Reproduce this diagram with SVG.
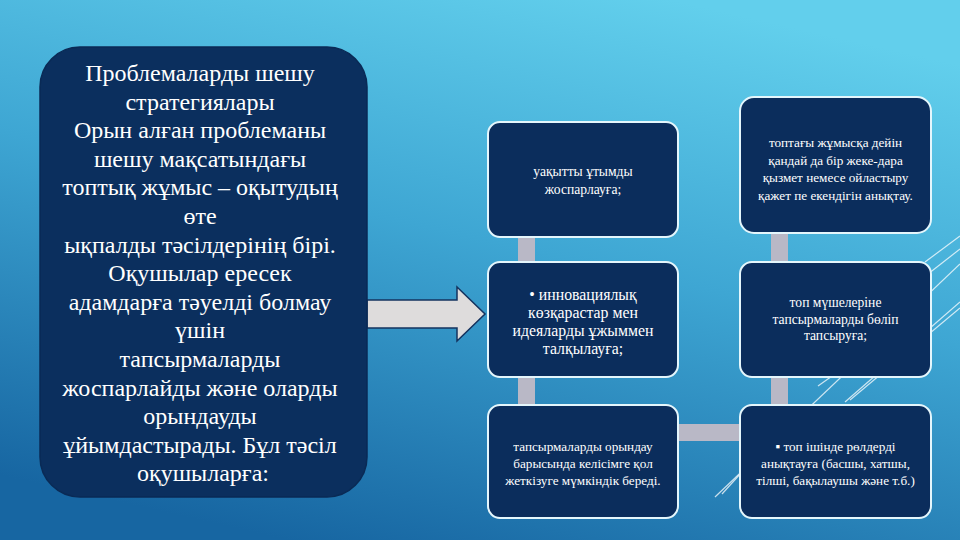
<svg xmlns="http://www.w3.org/2000/svg" width="960" height="540" viewBox="0 0 960 540">
<defs>
<linearGradient id="bg" x1="0.7" y1="0" x2="0.3" y2="1">
<stop offset="0" stop-color="#62cfec"/>
<stop offset="0.45" stop-color="#3ea6d3"/>
<stop offset="1" stop-color="#1766a2"/>
</linearGradient>
<style>
.box{fill:#0b2d5c;stroke:#e4f6fc;stroke-width:2}
.big{fill:#0b2f5e;stroke:#0a2a55;stroke-width:1.5}
.bar{fill:#b9b8c6}
.deco{stroke:#ffffff;stroke-opacity:0.75;stroke-width:1.2;fill:none}
text{font-family:"Liberation Serif","Times New Roman",serif;fill:#ffffff;text-anchor:middle}
.t1{font-size:24px}
.s{font-size:13.2px}
.s2{font-size:13.6px}
.m{font-size:15.8px}
</style>
</defs>
<rect width="960" height="540" fill="url(#bg)"/>
<g id="decor">
<line class="deco" x1="715" y1="497" x2="960" y2="264"/>
<line class="deco" x1="722" y1="494" x2="742" y2="472"/>
<line class="deco" x1="818" y1="386" x2="842" y2="369"/>
<line class="deco" x1="845" y1="402" x2="960" y2="302"/>
<line class="deco" x1="850" y1="400" x2="960" y2="308"/>
<line class="deco" x1="925" y1="262" x2="960" y2="236"/>
<line class="deco" x1="928" y1="274" x2="960" y2="249"/>
</g>
<g id="connectors">
<rect class="bar" x="518" y="237" width="17" height="25"/>
<rect class="bar" x="518" y="377" width="17" height="28"/>
<rect class="bar" x="771" y="233" width="17" height="29"/>
<rect class="bar" x="771" y="377" width="17" height="28"/>
<rect class="bar" x="678" y="424" width="62" height="17"/>
<path id="arrow" d="M367,300 H457 V287 L485,314 L457,341 V328 H367 Z" fill="#dedcdc" stroke="#15335f" stroke-width="1.5"/>
</g>
<g id="main">
<rect class="big" x="40" y="47" width="327" height="450" rx="40"/>
<text class="t1" x="203" y="81">
<tspan x="203">Проблемаларды шешу</tspan>
<tspan x="203" dy="28.6">стратегиялары</tspan>
<tspan x="203" dy="28.6">Орын алған проблеманы</tspan>
<tspan x="203" dy="28.6">шешу мақсатындағы</tspan>
<tspan x="203" dy="28.6">топтық жұмыс – оқытудың</tspan>
<tspan x="203" dy="28.6">өте</tspan>
<tspan x="203" dy="28.6">ықпалды тәсілдерінің бірі.</tspan>
<tspan x="203" dy="28.6">Оқушылар ересек</tspan>
<tspan x="203" dy="28.6">адамдарға тәуелді болмау</tspan>
<tspan x="203" dy="28.6">үшін</tspan>
<tspan x="203" dy="28.6">тапсырмаларды</tspan>
<tspan x="203" dy="28.6">жоспарлайды және оларды</tspan>
<tspan x="203" dy="28.6">орындауды</tspan>
<tspan x="203" dy="28.6">ұйымдастырады. Бұл тәсіл</tspan>
<tspan x="203" dy="28.6">оқушыларға:</tspan>
</text>
</g>
<g id="n1">
<rect class="box" x="488" y="122" width="190" height="115" rx="12"/>
<text class="s2" x="583" y="176"><tspan x="583">уақытты ұтымды</tspan><tspan x="583" dy="18">жоспарлауға;</tspan></text>
</g>
<g id="n2">
<rect class="box" x="740" y="97" width="191" height="136" rx="14"/>
<text class="s" x="835.5" y="147"><tspan x="835.5">топтағы жұмысқа дейін</tspan><tspan x="835.5" dy="17.6">қандай да бір жеке-дара</tspan><tspan x="835.5" dy="17.6">қызмет немесе ойластыру</tspan><tspan x="835.5" dy="17.6">қажет пе екендігін анықтау.</tspan></text>
</g>
<g id="n3">
<rect class="box" x="488" y="262" width="190" height="115" rx="12"/>
<text class="m" x="583" y="300"><tspan x="583">• инновациялық</tspan><tspan x="583" dy="18">көзқарастар мен</tspan><tspan x="583" dy="18">идеяларды ұжыммен</tspan><tspan x="583" dy="18">талқылауға;</tspan></text>
</g>
<g id="n4">
<rect class="box" x="740" y="262" width="191" height="115" rx="12"/>
<text class="s2" x="835.5" y="307"><tspan x="835.5">топ мүшелеріне</tspan><tspan x="835.5" dy="16.5">тапсырмаларды бөліп</tspan><tspan x="835.5" dy="16.5">тапсыруға;</tspan></text>
</g>
<g id="n5">
<rect class="box" x="488" y="405" width="190" height="113" rx="12"/>
<text class="s" x="583" y="451"><tspan x="583">тапсырмаларды орындау</tspan><tspan x="583" dy="17">барысында келісімге қол</tspan><tspan x="583" dy="17">жеткізуге мүмкіндік береді.</tspan></text>
</g>
<g id="n6">
<rect class="box" x="740" y="405" width="191" height="113" rx="12"/>
<text class="s" x="835.5" y="451"><tspan x="835.5">▪ топ ішінде рөлдерді</tspan><tspan x="835.5" dy="17">анықтауға (басшы, хатшы,</tspan><tspan x="835.5" dy="17">тілші, бақылаушы және т.б.)</tspan></text>
</g>
</svg>
